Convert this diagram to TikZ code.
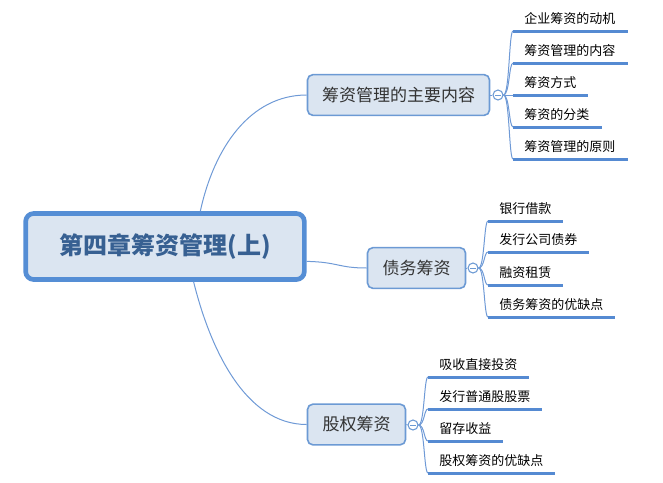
\documentclass[tikz,border=0pt]{standalone}
\usepackage{fontspec}
\setmainfont{Noto Sans CJK SC}
\usepackage{tikz}
\usetikzlibrary{shapes,arrows}

\definecolor{rootline}{RGB}{85,142,213}
\definecolor{boxline}{RGB}{108,154,212}
\definecolor{boxfill}{RGB}{219,229,241}
\definecolor{roottext}{RGB}{55,96,146}
\definecolor{topictext}{RGB}{51,51,51}
\definecolor{linkblue}{RGB}{111,154,214}
\definecolor{subblue}{RGB}{85,138,210}

\tikzset{
  rootbox/.style={draw=rootline, line width=3.5pt, fill=boxfill, rounded corners=6pt,
    minimum width=209pt, minimum height=49.5pt, text=roottext,
    font=\fontsize{18}{20}\selectfont\bfseries},
  topicbox/.style={draw=boxline, line width=1.2pt, fill=boxfill, rounded corners=4pt,
    minimum height=30.5pt, text=topictext, font=\fontsize{12.75}{14}\selectfont},
  fold/.style={circle, draw=boxline, line width=0.8pt, fill=white, minimum size=7.5pt, inner sep=0pt,
    path picture={\draw[boxline, line width=0.6pt] ([xshift=-2pt]path picture bounding box.center) -- ([xshift=2pt]path picture bounding box.center);}},
  subtext/.style={anchor=base west, inner sep=0pt, text=black, font=\fontsize{9.75}{11}\selectfont},
  subline/.style={draw=subblue, line width=2.25pt},
  link/.style={draw=linkblue, line width=0.75pt},
}

\begin{document}
\begin{tikzpicture}[x=0.75pt,y=0.75pt,yscale=-1,xscale=1]
    \useasboundingbox (0,0) rectangle (663,482);

    % Root
    \node[rootbox] (root) at (165,246.5) {第四章筹资管理(上)};
    % Topics
    \node[topicbox, minimum width=136.5pt] (t1) at (398.5,95) {筹资管理的主要内容};
    \node[topicbox, minimum width=73.5pt] (t2) at (416.5,268) {债务筹资};
    \node[topicbox, minimum width=73.5pt] (t3) at (356.5,424.5) {股权筹资};

    %Curve Lines root to topics
    \draw[link] (root.45) .. controls (214,148) and (250,95) .. (t1.west);
    \draw[link] (root.-6) .. controls (338,262) and (338,268) .. (t2.west);
    \draw[link] (root.-51) .. controls (210,348) and (245,424.5) .. (t3.west);

    % Fold circles
    \node[fold] (c1) at (498,95) {};
    \node[fold] (c2) at (473,268) {};
    \node[fold] (c3) at (413,425) {};
    \draw[link] (t1.east) -- (c1);
    \draw[link] (t2.east) -- (c2);
    \draw[link] (t3.east) -- (c3);

    % Subtopics of t1
    \coordinate (a11) at (513,31);  \coordinate (b11) at (628,31);
    \coordinate (a12) at (513,63);  \coordinate (b12) at (628,63);
    \coordinate (a13) at (513,95);  \coordinate (b13) at (588,95);
    \coordinate (a14) at (513,127); \coordinate (b14) at (602,127);
    \coordinate (a15) at (513,159); \coordinate (b15) at (628,159);
    \draw[link] (c1.east) .. controls +(6,0) and +(-4,0) .. (a11);
    \draw[link] (c1.east) .. controls +(6,0) and +(-4,0) .. (a12);
    \draw[link] (c1.east) -- (a13);
    \draw[link] (c1.east) .. controls +(6,0) and +(-4,0) .. (a14);
    \draw[link] (c1.east) .. controls +(6,0) and +(-4,0) .. (a15);
    \draw[subline] (a11) -- (b11);
    \draw[subline] (a12) -- (b12);
    \draw[subline] (a13) -- (b13);
    \draw[subline] (a14) -- (b14);
    \draw[subline] (a15) -- (b15);
    % Text Node
    \node[subtext] (s11) at (524,23) {企业筹资的动机};
    \node[subtext] (s12) at (524,55) {筹资管理的内容};
    \node[subtext] (s13) at (524,87) {筹资方式};
    \node[subtext] (s14) at (524,119) {筹资的分类};
    \node[subtext] (s15) at (524,151) {筹资管理的原则};

    % Subtopics of t2
    \coordinate (a21) at (488,221); \coordinate (b21) at (563,221);
    \coordinate (a22) at (488,252); \coordinate (b22) at (589,252);
    \coordinate (a23) at (488,285); \coordinate (b23) at (563,285);
    \coordinate (a24) at (488,317); \coordinate (b24) at (615,317);
    \draw[link] (c2.east) .. controls +(6,0) and +(-4,0) .. (a21);
    \draw[link] (c2.east) .. controls +(6,0) and +(-4,0) .. (a22);
    \draw[link] (c2.east) .. controls +(6,0) and +(-4,0) .. (a23);
    \draw[link] (c2.east) .. controls +(6,0) and +(-4,0) .. (a24);
    \draw[subline] (a21) -- (b21);
    \draw[subline] (a22) -- (b22);
    \draw[subline] (a23) -- (b23);
    \draw[subline] (a24) -- (b24);
    % Text Node
    \node[subtext] (s21) at (499,213) {银行借款};
    \node[subtext] (s22) at (499,244) {发行公司债券};
    \node[subtext] (s23) at (499,277) {融资租赁};
    \node[subtext] (s24) at (499,309) {债务筹资的优缺点};

    % Subtopics of t3
    \coordinate (a31) at (428,377); \coordinate (b31) at (529,377);
    \coordinate (a32) at (428,409); \coordinate (b32) at (542,409);
    \coordinate (a33) at (428,441); \coordinate (b33) at (503,441);
    \coordinate (a34) at (428,473); \coordinate (b34) at (555,473);
    \draw[link] (c3.east) .. controls +(6,0) and +(-4,0) .. (a31);
    \draw[link] (c3.east) .. controls +(6,0) and +(-4,0) .. (a32);
    \draw[link] (c3.east) .. controls +(6,0) and +(-4,0) .. (a33);
    \draw[link] (c3.east) .. controls +(6,0) and +(-4,0) .. (a34);
    \draw[subline] (a31) -- (b31);
    \draw[subline] (a32) -- (b32);
    \draw[subline] (a33) -- (b33);
    \draw[subline] (a34) -- (b34);
    % Text Node
    \node[subtext] (s31) at (439,369) {吸收直接投资};
    \node[subtext] (s32) at (439,401) {发行普通股股票};
    \node[subtext] (s33) at (439,433) {留存收益};
    \node[subtext] (s34) at (439,465) {股权筹资的优缺点};

\end{tikzpicture}
\end{document}
